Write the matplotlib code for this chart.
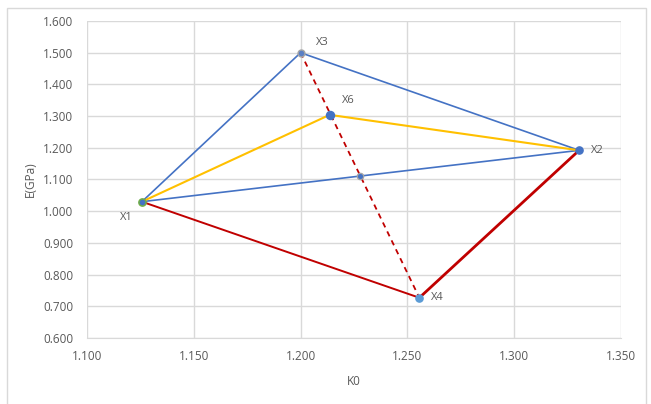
import matplotlib.pyplot as plt
from matplotlib.patches import Rectangle

plt.rcParams['font.family'] = ['Open Sans', 'DejaVu Sans']

# Points (K0, E in GPa)
names = ["X1", "X2", "X3", "X4", "X6"]
k0 = [1.1257, 1.3304, 1.2000, 1.2556, 1.2136]
e_gpa = [1.030, 1.192, 1.500, 0.727, 1.304]
# intersection of X1-X2 edge with the X3-X4 diagonal
mid_k0 = 1.2276
mid_e = 1.111

P = dict(zip(names, zip(k0, e_gpa)))

BLUE = "#4472C4"
YELLOW = "#FFC000"
RED = "#C00000"
GRID = "#D9D9D9"
TXT = "#595959"

fig = plt.figure(figsize=(6.51, 4.04), dpi=100)
fig.patches.append(Rectangle((6.5 / 651, -0.01), 639 / 651, 1 - 8 / 404 + 0.01,
                             transform=fig.transFigure, fill=False,
                             edgecolor=GRID, linewidth=1.0))
ax = fig.add_axes([87 / 651, 1 - 338 / 404, (621 - 87) / 651, (338 - 21) / 404])

def seg(a, b, **kw):
    ax.plot([P[a][0], P[b][0]], [P[a][1], P[b][1]], solid_capstyle='round', **kw)

# blue triangle X1-X3-X2-X1
ax.plot([P["X1"][0], P["X3"][0], P["X2"][0], P["X1"][0]],
        [P["X1"][1], P["X3"][1], P["X2"][1], P["X1"][1]],
        color=BLUE, lw=1.2, zorder=3)
# yellow X1-X6-X2
ax.plot([P["X1"][0], P["X6"][0], P["X2"][0]],
        [P["X1"][1], P["X6"][1], P["X2"][1]],
        color=YELLOW, lw=1.5, zorder=3)
# red X1-X4-X2
seg("X1", "X4", color=RED, lw=1.4, zorder=3)
seg("X4", "X2", color=RED, lw=2.0, zorder=3)
# dashed diagonal X3-X4
ax.plot([P["X3"][0], P["X4"][0]], [P["X3"][1], P["X4"][1]],
        color=RED, lw=1.3, ls=(0, (3, 2.5)), zorder=3)

# markers
ax.plot(*P["X1"], 'o', ms=5.2, mfc=BLUE, mec="#70AD47", mew=1.1, zorder=5)
ax.plot(*P["X2"], 'o', ms=5.2, mfc=BLUE, mec=BLUE, zorder=5)
ax.plot(*P["X3"], 'o', ms=5.0, mfc="#5B7FC4", mec="#A5A5A5", mew=1.0, zorder=5)
ax.plot(*P["X4"], 'o', ms=5.2, mfc="#5B9BD5", mec="#5B9BD5", zorder=5)
ax.plot(*P["X6"], 'o', ms=5.8, mfc=BLUE, mec=BLUE, zorder=5)
ax.plot(mid_k0, mid_e, 'o', ms=4.6, mfc=BLUE, mec="#A5A5A5", mew=0.9, zorder=5)

# point labels
offsets = {"X1": (-16, -11.5), "X2": (8.6, 0), "X3": (11, 7.5), "X4": (8, 0), "X6": (8.6, 10)}
for n in names:
    ax.annotate(n, P[n], xytext=offsets[n], textcoords='offset points',
                fontsize=8, color=TXT, va='center', ha='left')

ax.set_xlim(1.1, 1.35)
ax.set_ylim(0.6, 1.6)
xt = [1.10, 1.15, 1.20, 1.25, 1.30, 1.35]
yt = [0.6, 0.7, 0.8, 0.9, 1.0, 1.1, 1.2, 1.3, 1.4, 1.5, 1.6]
ax.set_xticks(xt)
ax.set_yticks(yt)
ax.set_xticklabels([f"{v:.3f}" for v in xt])
ax.set_yticklabels([f"{v:.3f}" for v in yt])
ax.tick_params(length=0, labelsize=8.5, labelcolor=TXT)
ax.tick_params(axis='x', pad=9)
ax.tick_params(axis='y', pad=10)
ax.grid(True, color=GRID, lw=1.0)
ax.set_axisbelow(True)
for s in ax.spines.values():
    s.set_visible(False)
ax.spines['bottom'].set_visible(True)
ax.spines['bottom'].set_color(GRID)
ax.set_xlabel("K0", fontsize=8.5, color=TXT, labelpad=8)
ax.set_ylabel("E(GPa)", fontsize=8.5, color=TXT, labelpad=4)

fig.savefig("out.png", dpi=100)
